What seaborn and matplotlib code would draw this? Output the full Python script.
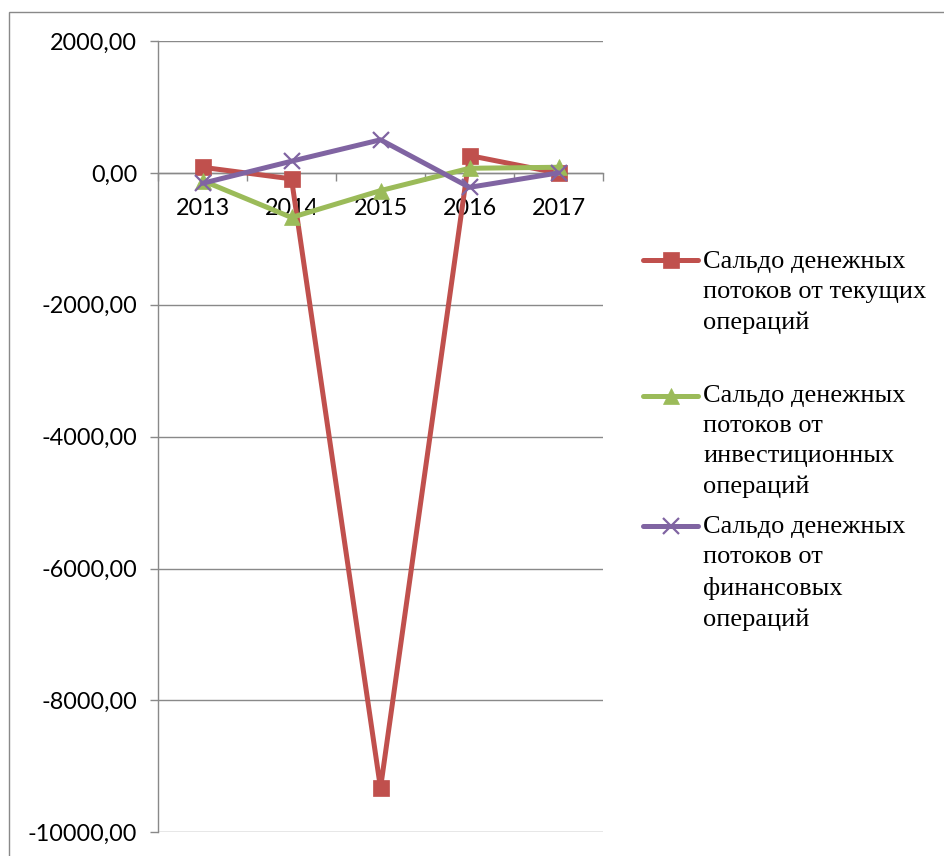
import matplotlib
matplotlib.use("Agg")
import matplotlib.pyplot as plt
from matplotlib.lines import Line2D
from matplotlib.patches import Rectangle
from matplotlib.ticker import FixedLocator, FuncFormatter
import numpy as np
import pandas as pd
import seaborn as sns

# --- data -------------------------------------------------------------
years = [2013, 2014, 2015, 2016, 2017]
current_ops = [85, -91, -9330, 263, -5]
invest_ops = [-117, -676, -269, 70, 85]
finance_ops = [-158, 177, 502, -219, 0]

series_names = [
    "Сальдо денежных\nпотоков от текущих\nопераций",
    "Сальдо денежных\nпотоков от\nинвестиционных\nопераций",
    "Сальдо денежных\nпотоков от\nфинансовых\nопераций",
]
series_values = [current_ops, invest_ops, finance_ops]
colors = ["#C0504D", "#9BBB59", "#8064A2"]
markers = ["s", "^", "x"]

y_ticks = [-10000, -8000, -6000, -4000, -2000, 0, 2000]

frames = []
for name, vals in zip(series_names, series_values):
    frames.append(pd.DataFrame({"Год": years, "Сальдо": vals, "Показатель": name}))
df = pd.concat(frames, ignore_index=True)

# --- figure -----------------------------------------------------------
sns.set_theme(style="white")
plt.rcParams["font.family"] = ["Lato", "DejaVu Sans"]

W, H = 945, 856
fig = plt.figure(figsize=(W / 100, H / 100), dpi=100)
fig.patch.set_facecolor("white")

ax = fig.add_axes([158 / W, 1 - 832.3 / H, 445 / W, (832.3 - 41) / H])
ax.set_facecolor("white")

grid_col = "#898989"

for name, col, mk in zip(series_names, colors, markers):
    sub = df[df["Показатель"] == name]
    sns.lineplot(
        data=sub, x="Год", y="Сальдо", ax=ax, color=col,
        marker=mk, markersize=12, linewidth=3.6,
        markeredgecolor=col, markerfacecolor=col,
        markeredgewidth=1.6 if mk == "x" else 0.5,
        legend=False, sort=False, zorder=3,
    )

ax.set_xlim(years[0] - 0.5, years[-1] + 0.5)
ax.set_ylim(y_ticks[0], y_ticks[-1])
ax.set_xlabel("")
ax.set_ylabel("")

# y axis
ax.set_yticks(y_ticks)
ax.yaxis.set_major_formatter(FuncFormatter(lambda v, p: f"{v:.2f}".replace(".", ",")))
ax.grid(axis="y", color=grid_col, linewidth=1.0, zorder=0)
ax.grid(axis="x", visible=False)
ax.tick_params(axis="y", which="major", direction="out", length=6, width=1.0,
               color=grid_col, pad=9, labelsize=16.8, labelcolor="black", left=True)

# x axis drawn along the zero line
for s in ["top", "right"]:
    ax.spines[s].set_visible(False)
ax.spines["left"].set_color(grid_col)
ax.spines["left"].set_linewidth(1.0)
ax.spines["bottom"].set_position(("data", 0))
ax.spines["bottom"].set_color(grid_col)
ax.spines["bottom"].set_linewidth(1.0)
boundaries = np.arange(years[0] - 0.5, years[-1] + 1.0, 1.0)
ax.xaxis.set_major_locator(FixedLocator(boundaries))
ax.xaxis.set_major_formatter(FuncFormatter(lambda v, p: ""))
ax.xaxis.set_minor_locator(FixedLocator(years))
ax.xaxis.set_minor_formatter(FuncFormatter(lambda v, p: f"{int(round(v))}"))
ax.tick_params(axis="x", which="major", direction="out", length=6, width=1.0,
               color=grid_col, bottom=True)
ax.tick_params(axis="x", which="minor", length=0, pad=18, labelsize=16.8,
               labelcolor="black", bottom=True)

# --- legend -----------------------------------------------------------
def fx(px):
    return px / W

def fy(py):
    return 1 - py / H

legend_rows = [(260, 251), (396, 385), (526, 516)]
for (hy, ty), name, col, mk in zip(legend_rows, series_names, colors, markers):
    fig.add_artist(Line2D([fx(643), fx(698)], [fy(hy), fy(hy)], color=col,
                          linewidth=3.6, transform=fig.transFigure))
    fig.add_artist(Line2D([fx(670.5)], [fy(hy)], color=col, marker=mk,
                          markersize=12, markeredgecolor=col, markerfacecolor=col,
                          markeredgewidth=1.6 if mk == "x" else 0.5,
                          linestyle="none", transform=fig.transFigure))
    fig.text(fx(703), fy(ty), name, ha="left", va="top",
             fontsize=19, family=["Liberation Serif", "DejaVu Serif"],
             color="black", linespacing=1.48)

# chart border
fig.add_artist(Rectangle((fx(9), fy(H + 10)), fx(W + 10), fy(11.5) - fy(H + 10),
                         transform=fig.transFigure, fill=False,
                         edgecolor=grid_col, linewidth=1.0))

fig.savefig("out.png", dpi=100, facecolor="white")
